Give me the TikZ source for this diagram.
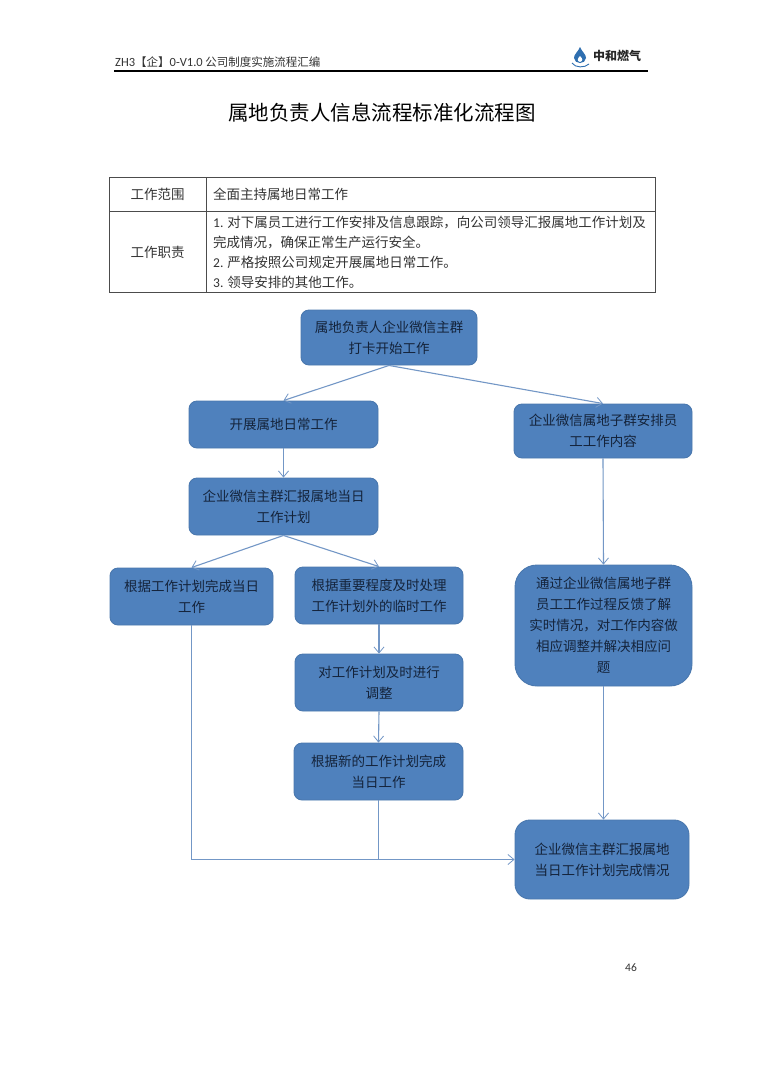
\documentclass[tikz,border=0pt]{standalone}
\usepackage{fontspec}
\setmainfont{Noto Sans CJK SC}[Scale=1]
\newfontfamily\latinf{Carlito}
\usetikzlibrary{arrows.meta}
\definecolor{boxfill}{HTML}{4F81BD}
\definecolor{boxline}{HTML}{4A78AE}
\definecolor{conn}{HTML}{7397C6}
\definecolor{boxtext}{HTML}{14233A}
\definecolor{tabtext}{HTML}{333333}
\definecolor{logoblue}{HTML}{2F6FB0}
\tikzset{
  x=1pt,y=-1pt,
  flow/.style={draw=boxline,fill=boxfill,line width=0.9pt,rounded corners=#1,text=boxtext,align=center,font=\fontsize{13.5}{21}\selectfont,inner sep=0pt,anchor=center},
  flow/.default=8pt,
  link/.style={draw=conn,line width=1.1pt,-{Straight Barb[length=6pt,width=10pt,line width=0.8pt]}},
  plain/.style={draw=conn,line width=1.1pt},
  tabline/.style={draw=black!70,line width=0.9pt},
  celltxt/.style={text=tabtext,font=\fontsize{13.5}{20}\selectfont,inner sep=0pt},
}
\begin{document}
\begin{tikzpicture}
\useasboundingbox (0,0) rectangle (764,1080);
\fill[white] (0,0) rectangle (764,1080);
% header
\node[anchor=west,inner sep=0pt,text=black!80,font=\fontsize{11.5}{12}\selectfont] (hdr) at (115,62) {{\latinf\fontsize{12.5}{12}\selectfont ZH3}【企】{\latinf\fontsize{12.5}{12}\selectfont 0-V1.0} 公司制度实施流程汇编};
\coordinate (ruleL) at (114,71);
\coordinate (ruleR) at (648,71);
\draw[black,line width=1.1pt] (ruleL) -- (ruleR);
% logo
\fill[logoblue] (580,47) .. controls (578,52) and (574,54) .. (574,58) .. controls (574,61) and (577,63) .. (580,63) .. controls (583,63) and (586,61) .. (586,58) .. controls (586,54) and (582,52) .. (580,47) -- cycle;
\fill[white] (580,62) .. controls (577,61) and (577,59) .. (580,56) .. controls (583,59) and (583,61) .. (580,62) -- cycle;
\draw[logoblue,line width=0.9pt] (572,63) .. controls (575,68) and (585,68) .. (589,64);
\node[inner sep=0pt,anchor=west,text=black!85,font=\fontsize{12}{12}\selectfont\bfseries] (logo) at (593,56) {中和燃气};
% title
\node[inner sep=0pt,text=black,font=\fontsize{20.5}{24}\selectfont] (title) at (382,113) {属地负责人信息流程标准化流程图};
% table
\draw[tabline] (109,177) rectangle (655,292);
\draw[tabline] (109,211) -- (655,211);
\draw[tabline] (206,177) -- (206,292);
\node[celltxt] (c1) at (157.5,194) {工作范围};
\node[celltxt] (c2) at (157.5,252) {工作职责};
\node[celltxt,anchor=west] (c3) at (213,194) {全面主持属地日常工作};
\node[celltxt,anchor=west] (l1) at (213,222) {{\latinf 1.} 对下属员工进行工作安排及信息跟踪，向公司领导汇报属地工作计划及};
\node[celltxt,anchor=west] (l2) at (213,242) {完成情况，确保正常生产运行安全。};
\node[celltxt,anchor=west] (l3) at (213,262) {{\latinf 2.} 严格按照公司规定开展属地日常工作。};
\node[celltxt,anchor=west] (l4) at (213,282) {{\latinf 3.} 领导安排的其他工作。};
% flow nodes
\node[flow,minimum width=176pt,minimum height=55pt] (start) at (389,337.5) {属地负责人企业微信主群\\打卡开始工作};
\node[flow,minimum width=189pt,minimum height=47pt] (a) at (283.5,424.5) {开展属地日常工作};
\node[flow,minimum width=178pt,minimum height=54pt] (b) at (603,431) {企业微信属地子群安排员\\工工作内容};
\node[flow,minimum width=189pt,minimum height=57pt] (c) at (283.5,506.5) {企业微信主群汇报属地当日\\工作计划};
\node[flow,minimum width=163pt,minimum height=57pt] (d) at (191.5,596.5) {根据工作计划完成当日\\工作};
\node[flow,minimum width=168pt,minimum height=57pt] (e) at (379,595.5) {根据重要程度及时处理\\工作计划外的临时工作};
\node[flow,minimum width=168pt,minimum height=57pt] (f) at (379,682.5) {对工作计划及时进行\\调整};
\node[flow,minimum width=169pt,minimum height=57pt] (g) at (378.5,771.5) {根据新的工作计划完成\\当日工作};
\node[flow=22pt,minimum width=177pt,minimum height=121pt] (h) at (603.5,625.5) {通过企业微信属地子群\\员工工作过程反馈了解\\实时情况，对工作内容做\\相应调整并解决相应问\\题};
\node[flow=15pt,minimum width=174pt,minimum height=79pt] (i) at (602,859.5) {企业微信主群汇报属地\\当日工作计划完成情况};
% connectors
\draw[link] (start.south) -- (a.north);
\draw[link] (start.south) -- (b.north);
\draw[link] (a.south) -- (c.north);
\draw[link] (c.south) -- (d.north);
\draw[link] (c.south) -- (e.north);
\draw[link] (e.south) -- (f.north);
\draw[link] (f.south) -- (g.north);
\draw[link] (b.south) -- (h.north);
\draw[link] (h.south) -- (h.south |- i.north);
\coordinate (j1) at (d.south |- i.west);
\draw[link] (d.south) -- (j1) -- (i.west);
\draw[plain] (g.south) -- (g.south |- i.west);
% page number
\node[inner sep=0pt,text=black!80,font=\latinf\fontsize{11.5}{12}\selectfont] (pg) at (631,967.5) {46};
\end{tikzpicture}
\end{document}
